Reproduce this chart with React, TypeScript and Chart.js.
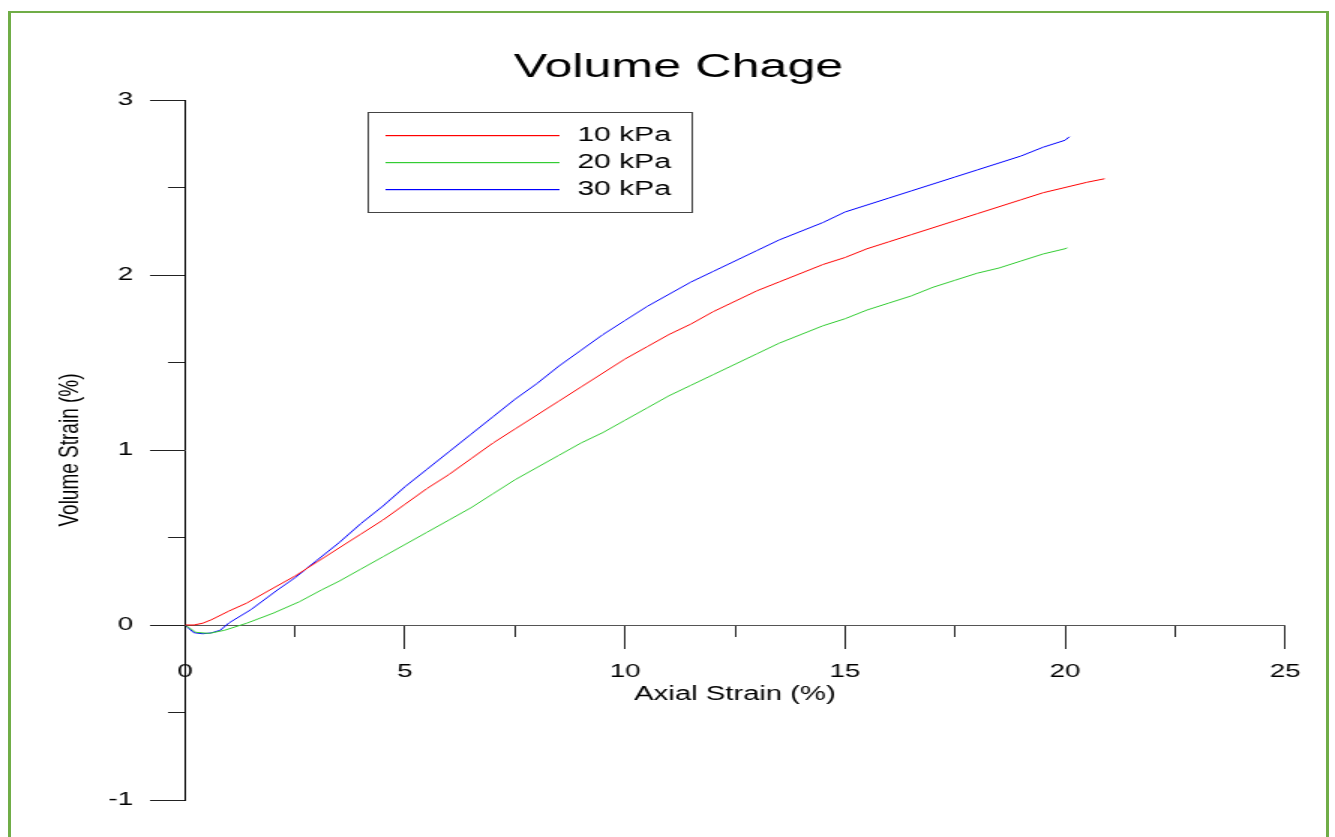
import React, { useEffect, useRef } from 'react';
import { Chart, registerables } from 'chart.js';

Chart.register(...registerables);

// ---------------- data ----------------
const chartTitle = 'Volume Chage';
const xAxisTitle = 'Axial Strain (%)';
const yAxisTitle = 'Volume Strain (%)';
const seriesLabels = ['10 kPa', '20 kPa', '30 kPa'];
const seriesColors = ['#ff0000', '#33cc33', '#0000ff'];

const xMin = 0;
const xMax = 25;
const xMajorStep = 5;
const xMinorStep = 2.5;
const yMin = -1;
const yMax = 3;
const yMajorStep = 1;
const yMinorStep = 0.5;

const kpa10X = [0, 0.2, 0.4, 0.6, 1.0, 1.4, 1.9, 2.5, 3, 3.5, 4, 4.5, 5, 5.5, 6, 6.5, 7, 7.5, 8, 8.5, 9, 9.5, 10, 10.5, 11, 11.5, 12, 12.5, 13, 13.5, 14, 14.5, 15, 15.5, 16, 16.5, 17, 17.5, 18, 18.5, 19, 19.5, 20, 20.5, 20.9];
const kpa10Y = [0, 0, 0.01, 0.03, 0.08, 0.125, 0.196, 0.28, 0.36, 0.44, 0.52, 0.6, 0.69, 0.78, 0.86, 0.95, 1.04, 1.12, 1.2, 1.28, 1.36, 1.44, 1.52, 1.59, 1.66, 1.72, 1.79, 1.85, 1.91, 1.96, 2.01, 2.06, 2.1, 2.15, 2.19, 2.23, 2.27, 2.31, 2.35, 2.39, 2.43, 2.47, 2.5, 2.53, 2.55];

const kpa20X = [0, 0.25, 0.55, 0.9, 1.4, 2.0, 2.6, 3.1, 3.5, 4, 4.5, 5, 5.5, 6, 6.5, 7, 7.5, 8, 8.5, 9, 9.5, 10, 10.5, 11, 11.5, 12, 12.5, 13, 13.5, 14, 14.5, 15, 15.5, 16, 16.5, 17, 17.5, 18, 18.5, 19, 19.5, 20, 20.05];
const kpa20Y = [0, -0.042, -0.048, -0.03, 0.01, 0.067, 0.133, 0.2, 0.25, 0.32, 0.39, 0.46, 0.53, 0.6, 0.67, 0.75, 0.83, 0.9, 0.97, 1.04, 1.1, 1.17, 1.24, 1.31, 1.37, 1.43, 1.49, 1.55, 1.61, 1.66, 1.71, 1.75, 1.8, 1.84, 1.88, 1.93, 1.97, 2.01, 2.04, 2.08, 2.12, 2.15, 2.155];

const kpa30X = [0, 0.2, 0.4, 0.6, 0.8, 1.0, 1.5, 2.1, 2.5, 3, 3.5, 4, 4.5, 5, 5.5, 6, 6.5, 7, 7.5, 8, 8.5, 9, 9.5, 10, 10.5, 11, 11.5, 12, 12.5, 13, 13.5, 14, 14.5, 15, 15.5, 16, 16.5, 17, 17.5, 18, 18.5, 19, 19.5, 20, 20.1];
const kpa30Y = [0, -0.044, -0.05, -0.045, -0.03, 0.012, 0.088, 0.2, 0.27, 0.37, 0.47, 0.58, 0.68, 0.79, 0.89, 0.99, 1.09, 1.19, 1.29, 1.38, 1.48, 1.57, 1.66, 1.74, 1.82, 1.89, 1.96, 2.02, 2.08, 2.14, 2.2, 2.25, 2.3, 2.36, 2.4, 2.44, 2.48, 2.52, 2.56, 2.6, 2.64, 2.68, 2.73, 2.77, 2.79];

const seriesX = [kpa10X, kpa20X, kpa30X];
const seriesY = [kpa10Y, kpa20Y, kpa30Y];

// ---------------- layout ----------------
const STRETCH = 1.5;
const CANVAS_W = 890;
const CANVAS_H = 837;
const FONT = '"Liberation Sans", Arial, Helvetica, sans-serif';

Chart.defaults.font.family = FONT;

const decorPlugin = {
  id: 'decor',
  afterDraw(chart: any) {
    const { ctx, chartArea } = chart;
    ctx.save();
    // chart title
    ctx.fillStyle = '#000';
    ctx.font = `33.5px ${FONT}`;
    ctx.textAlign = 'center';
    ctx.textBaseline = 'middle';
    ctx.fillText(chartTitle, 452.3, 67.5);

    // boxed legend
    const bx = Math.round(chartArea.left + 122);
    const by = Math.round(chartArea.top + 12);
    const bw = 216;
    const bh = 100;
    ctx.strokeStyle = '#444';
    ctx.lineWidth = 1;
    ctx.strokeRect(bx + 0.5, by + 0.5, bw, bh);
    ctx.font = `20px ${FONT}`;
    ctx.textAlign = 'left';
    ctx.textBaseline = 'middle';
    const rows = [23, 50, 77];
    for (let i = 0; i < seriesLabels.length; i++) {
      const yy = by + rows[i];
      ctx.fillStyle = seriesColors[i];
      ctx.fillRect(bx + 12, yy, 116, 1.2);
      ctx.fillStyle = '#000000';
      ctx.fillText(seriesLabels[i], bx + 140, yy + 0.5);
    }
    ctx.restore();
  },
};

export default function App() {
  const ref = useRef<HTMLCanvasElement>(null);

  useEffect(() => {
    const canvas = ref.current;
    if (!canvas) return;
    const datasets = seriesLabels.map((label, i) => ({
      label,
      data: seriesX[i].map((x, j) => ({ x, y: seriesY[i][j] })),
      borderColor: seriesColors[i],
      backgroundColor: seriesColors[i],
      borderWidth: 1,
      pointRadius: 0,
      showLine: true,
      fill: false,
      tension: 0,
    }));

    const chart = new Chart(canvas, {
      type: 'scatter',
      data: { datasets },
      plugins: [decorPlugin],
      options: {
        responsive: false,
        animation: false,
        devicePixelRatio: 1,
        events: [],
        layout: { padding: { left: 0, right: 33.33, top: 100, bottom: 37 } },
        plugins: {
          legend: { display: false },
          title: { display: false },
          tooltip: { enabled: false },
        },
        scales: {
          x: {
            type: 'linear',
            axis: 'x',
            position: { y: 0 },
            min: xMin,
            max: xMax,
            afterFit: (s: any) => { s.height = 81; },
            ticks: { stepSize: xMajorStep, font: { size: 18.5 }, color: '#000', padding: 12.4, maxRotation: 0 },
            grid: { drawOnChartArea: false, drawTicks: true, tickLength: 23, tickColor: '#222', tickWidth: 1 },
            border: { display: true, color: '#555', width: 1 },
            title: { display: true, text: xAxisTitle, font: { size: 19.5 }, color: '#000', padding: { top: 0, bottom: 0 } },
          },
          x2: {
            type: 'linear',
            axis: 'x',
            position: { y: 0 },
            min: xMin,
            max: xMax,
            afterFit: (s: any) => { s.height = 0; },
            ticks: { display: false, stepSize: xMinorStep },
            grid: { drawOnChartArea: false, drawTicks: true, tickLength: 12, tickColor: '#222', tickWidth: 1 },
            border: { display: false },
          },
          y: {
            type: 'linear',
            axis: 'y',
            position: 'left',
            weight: 1,
            min: yMin,
            max: yMax,
            afterFit: (s: any) => { s.width = 123.33; },
            ticks: { stepSize: yMajorStep, font: { size: 18.5 }, color: '#000', padding: 11.3 },
            grid: { drawOnChartArea: false, drawTicks: true, tickLength: 23.33, tickColor: '#222', tickWidth: 1 },
            border: { display: true, color: '#000', width: 1 },
            title: { display: true, text: yAxisTitle, font: { size: 19 }, color: '#000', padding: { top: 35.3, bottom: 0 } },
          },
          y2: {
            type: 'linear',
            axis: 'y',
            position: 'left',
            weight: 0,
            min: yMin,
            max: yMax,
            afterFit: (s: any) => { s.width = 0; },
            ticks: { display: false, stepSize: yMinorStep },
            grid: { drawOnChartArea: false, drawTicks: true, tickLength: 11.33, tickColor: '#222', tickWidth: 1 },
            border: { display: false },
          },
        },
      } as any,
    });
    return () => chart.destroy();
  }, []);

  return (
    <div style={{ position: 'fixed', left: 0, top: 0, width: 1335, height: 837, overflow: 'hidden', background: '#fff' }}>
      <div
        style={{
          position: 'absolute',
          left: 0,
          top: 0,
          width: CANVAS_W,
          height: CANVAS_H,
          transform: `scaleX(${STRETCH})`,
          transformOrigin: '0 0',
        }}
      >
        <canvas ref={ref} width={CANVAS_W} height={CANVAS_H} style={{ display: 'block', width: CANVAS_W, height: CANVAS_H }} />
      </div>
      <div
        style={{
          position: 'absolute',
          left: 8,
          top: 11,
          width: 1321,
          height: 900,
          boxSizing: 'border-box',
          border: '3px solid #70AD47',
          borderTopWidth: 2,
          pointerEvents: 'none',
        }}
      />
    </div>
  );
}
